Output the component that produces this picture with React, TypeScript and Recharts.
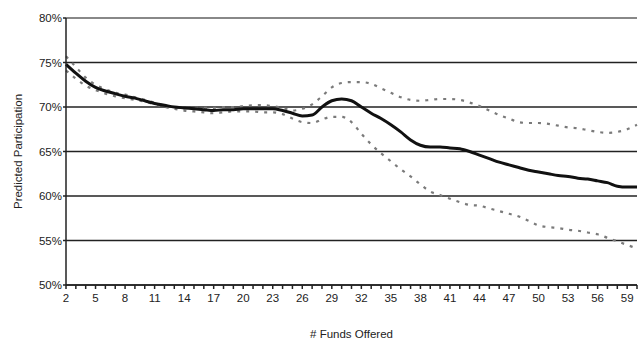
import React from 'react';
import { LineChart, Line, XAxis, YAxis, CartesianGrid, ReferenceLine } from 'recharts';

// # funds offered (x) and predicted participation (%)
const funds = [
  2, 3, 4, 5, 6, 7, 8, 9, 10, 11, 12, 13, 14, 15, 16, 17, 18, 19, 20, 21,
  22, 23, 24, 25, 26, 27, 28, 29, 30, 31, 32, 33, 34, 35, 36, 37, 38, 39, 40, 41,
  42, 43, 44, 45, 46, 47, 48, 49, 50, 51, 52, 53, 54, 55, 56, 57, 58, 59, 60,
];

const predicted = [
  74.8, 73.8, 72.9, 72.2, 71.8, 71.5, 71.2, 71.0, 70.7, 70.4, 70.2, 70.0, 69.9, 69.8, 69.7, 69.6, 69.7, 69.7, 69.8, 69.8,
  69.8, 69.8, 69.6, 69.3, 69.0, 69.1, 70.0, 70.7, 70.9, 70.7, 70.0, 69.3, 68.7, 68.0, 67.2, 66.3, 65.7, 65.5, 65.5, 65.4,
  65.3, 65.0, 64.6, 64.2, 63.8, 63.5, 63.2, 62.9, 62.7, 62.5, 62.3, 62.2, 62.0, 61.9, 61.7, 61.5, 61.1, 61.0, 61.0,
];

const upperBand = [
  75.7, 74.5, 73.3, 72.5, 72.0, 71.6, 71.4, 71.1, 70.8, 70.5, 70.2, 70.0, 69.9, 69.9, 69.9, 69.9, 70.0, 70.0, 70.1, 70.2,
  70.2, 70.1, 69.9, 69.6, 69.8, 70.3, 71.2, 72.2, 72.7, 72.8, 72.8, 72.6, 72.1, 71.6, 71.1, 70.8, 70.7, 70.8, 70.9, 70.9,
  70.8, 70.5, 70.1, 69.6, 69.1, 68.7, 68.3, 68.2, 68.2, 68.1, 67.9, 67.7, 67.6, 67.4, 67.2, 67.1, 67.2, 67.5, 68.0,
];

const lowerBand = [
  74.1, 73.2, 72.4, 71.9, 71.5, 71.2, 71.0, 70.8, 70.6, 70.3, 70.0, 69.8, 69.6, 69.5, 69.4, 69.3, 69.4, 69.5, 69.5, 69.5,
  69.4, 69.4, 69.2, 68.7, 68.3, 68.2, 68.6, 68.9, 68.9, 68.3, 67.0, 65.8, 64.8, 63.9, 63.0, 62.2, 61.3, 60.5, 60.1, 59.7,
  59.3, 59.0, 58.9, 58.6, 58.3, 58.0, 57.7, 57.2, 56.7, 56.5, 56.4, 56.2, 56.1, 55.9, 55.7, 55.3, 54.9, 54.5, 54.1,
];

const yTicks = [50, 55, 60, 65, 70, 75, 80];
const xTicks = funds;

const data = funds.map((f, i) => ({
  funds: f,
  predicted: predicted[i],
  upper: upperBand[i],
  lower: lowerBand[i],
}));

const font = '"Liberation Sans", Arial, sans-serif';

export default function App() {
  return (
    <div style={{ position: 'absolute', left: 0, top: 0, background: '#fff' }}>
      <LineChart
        width={639}
        height={343}
        data={data}
        margin={{ top: 18, right: 2, left: 0, bottom: 0 }}
        style={{ fontFamily: font }}
      >
        <CartesianGrid vertical={false} stroke="#222" strokeWidth={1.5} />
        <XAxis
          dataKey="funds"
          type="number"
          domain={[2, 60]}
          ticks={xTicks}
          interval={0}
          height={58}
          tickFormatter={(v: number) => ((v - 2) % 3 === 0 && v < 60 ? String(v) : '')}
          tick={{ fill: '#222', fontSize: 11.5 }}
          tickSize={4}
          tickMargin={5}
          stroke="#222"
          strokeWidth={1.5}
          label={{ value: '# Funds Offered', position: 'insideBottom', offset: 5, fill: '#222', fontSize: 11.5 }}
        />
        <YAxis
          type="number"
          domain={[50, 80]}
          ticks={yTicks}
          width={66}
          tickFormatter={(v: number) => `${v}%`}
          tick={{ fill: '#222', fontSize: 11.5 }}
          tickSize={3}
          tickMargin={1}
          stroke="#222"
          strokeWidth={1.5}
          label={{
            value: 'Predicted Participation',
            angle: -90,
            position: 'insideLeft',
            offset: 18,
            style: { textAnchor: 'middle', fill: '#222', fontSize: 11.5 },
          }}
        />
        <ReferenceLine y={80} stroke="#999" strokeWidth={1.5} />
        <Line
          type="monotone"
          dataKey="upper"
          stroke="#7a7a7a"
          strokeWidth={2.2}
          strokeDasharray="3 6"
          dot={false}
          isAnimationActive={false}
        />
        <Line
          type="monotone"
          dataKey="lower"
          stroke="#7a7a7a"
          strokeWidth={2.2}
          strokeDasharray="3 6"
          dot={false}
          isAnimationActive={false}
        />
        <Line
          type="monotone"
          dataKey="predicted"
          stroke="#111"
          strokeWidth={3}
          dot={false}
          isAnimationActive={false}
        />
      </LineChart>
    </div>
  );
}
